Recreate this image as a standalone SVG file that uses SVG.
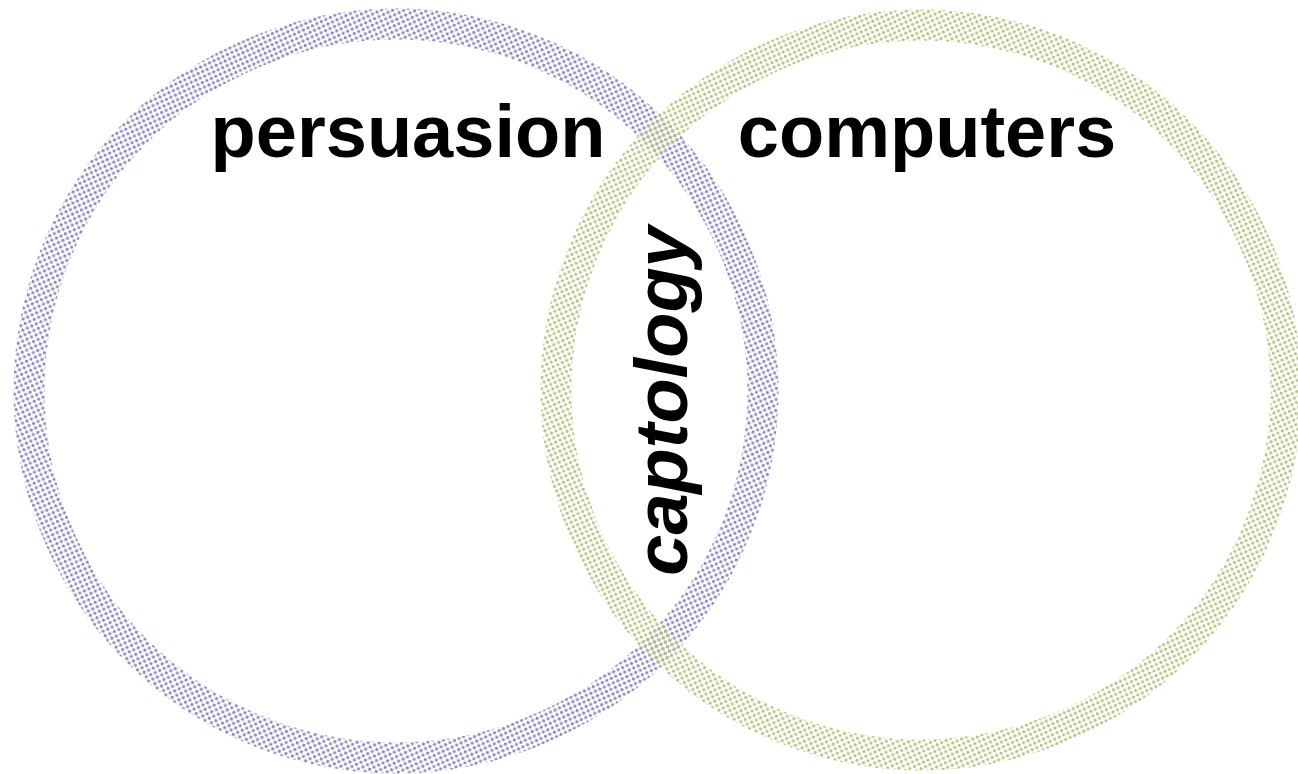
<svg xmlns="http://www.w3.org/2000/svg" width="1298" height="774" viewBox="0 0 1298 774">
  <style>
    .label { font-family: "Liberation Sans", Arial, sans-serif; font-weight: bold; font-size: 74px; fill: #000; }
    .ring { fill: none; stroke-width: 31; }
  </style>
  <defs>
    <pattern id="dotsPurple" width="7" height="7" patternUnits="userSpaceOnUse" patternTransform="rotate(20)">
      <rect x="0" y="0" width="2.8" height="2.8" fill="#8b86c0"/>
      <rect x="3.5" y="3.5" width="2.8" height="2.8" fill="#8b86c0"/>
    </pattern>
    <pattern id="dotsGreen" width="7" height="7" patternUnits="userSpaceOnUse" patternTransform="rotate(20)">
      <rect x="0" y="0" width="2.8" height="2.8" fill="#b6c27f"/>
      <rect x="3.5" y="3.5" width="2.8" height="2.8" fill="#b6c27f"/>
    </pattern>
  </defs>
  <rect width="1298" height="774" fill="#ffffff"/>
  <g id="persuasion">
    <circle class="ring" cx="396" cy="391" r="367" stroke="url(#dotsPurple)"/>
    <text class="label" x="408" y="157" text-anchor="middle">persuasion</text>
  </g>
  <g id="computers">
    <circle class="ring" cx="921" cy="390" r="365" stroke="url(#dotsGreen)"/>
    <text class="label" x="927" y="157" text-anchor="middle">computers</text>
  </g>
  <g id="captology">
    <text class="label" font-style="italic" transform="translate(687,401) rotate(-90)" text-anchor="middle">captology</text>
  </g>
  <g id="connectors"/>
</svg>
